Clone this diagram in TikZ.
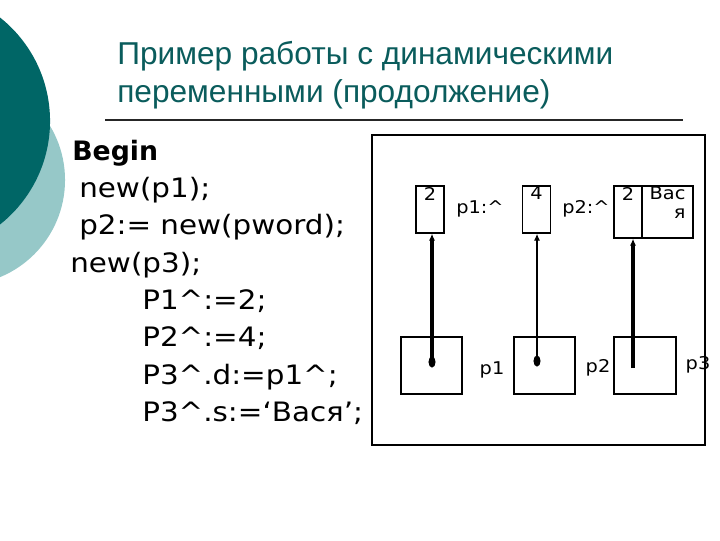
\documentclass[tikz,border=0pt]{standalone}
\usepackage{fontspec}
\setmainfont{DejaVu Sans}
\newfontfamily\titlefont{Liberation Sans}
\newfontfamily\codefont[FakeStretch=1.1]{DejaVu Sans}
\usepackage{tikz}
\usetikzlibrary{
  arrows.meta,
  positioning,
  shapes.geometric
}
\definecolor{slidedark}{RGB}{0,102,102}
\definecolor{slidelight}{RGB}{150,200,200}
\definecolor{titleteal}{RGB}{10,92,92}

\tikzset{
  codeline/.style={anchor=base west, inner sep=0pt, font=\codefont\fontsize{19}{22}\selectfont},
  titleline/.style={anchor=base west, inner sep=0pt, text=titleteal, font=\titlefont\fontsize{22.5}{26}\selectfont},
  cell/.style={draw, line width=1pt, inner sep=0pt},
  lbl/.style={inner sep=1pt, font=\codefont\fontsize{12.5}{13.5}\selectfont},
  ptr/.style={-{Latex[length=5pt,width=4.5pt]}, line width=2.4pt},
  dot/.style={ellipse, fill, inner sep=0pt, minimum width=5pt, minimum height=8pt}
}

\begin{document}
\begin{tikzpicture}[x=0.025cm, y=-0.025cm]
  \useasboundingbox (0,0) rectangle (720,540);

  % Decorative circles
  \begin{scope}
    \clip (0,0) rectangle (720,540);
    \fill[slidelight] (-40,180) circle[radius=2.625cm];
    \fill[slidedark] (-82,121) circle[radius=3.3cm];
  \end{scope}

  % Title
  \node[titleline] (title1) at (117,64) {Пример работы с динамическими};
  \node[titleline] (title2) at (117,102) {переменными (продолжение)};
  \draw[line width=1pt, black!85] (105,120) -- (683,120);

  % Program text
  \node[codeline, font=\fontsize{19}{22}\selectfont\bfseries] (c0) at (72,160) {Begin};
  \node[codeline] (c1) at (79,197) {new(p1);};
  \node[codeline] (c2) at (79,234) {p2:= new(pword);};
  \node[codeline] (c3) at (70,272) {new(p3);};
  \node[codeline] (c4) at (142,309) {P1\^{}:=2;};
  \node[codeline] (c5) at (142,346) {P2\^{}:=4;};
  \node[codeline] (c6) at (142,384) {P3\^{}.d:=p1\^{};};
  \node[codeline] (c7) at (142,421) {P3\^{}.s:=‘Вася’;};

  % Memory frame
  \draw[line width=1.3pt] (372,135) rectangle (705,445);

  % Dynamic variables
  \node[cell, minimum width=0.7cm, minimum height=1.175cm,
        label={[lbl, anchor=north]north:2}] (val1) at (430,209.5) {};
  \node[cell, minimum width=0.7cm, minimum height=1.175cm,
        label={[lbl, anchor=north]north:4}] (val2) at (536.5,209.5) {};
  \node[cell, minimum width=0.7cm, minimum height=1.3cm,
        label={[lbl, anchor=north]north:2}] (recd) at (628,212) {};
  \node[cell, minimum width=1.275cm, minimum height=1.3cm,
        label={[lbl, anchor=north, align=right]north:{Вас\\я}}] (recs) at (667.5,212) {};
  \node[lbl] (lv1) at (480,209) {p1:\^{}};
  \node[lbl] (lv2) at (586,209) {p2:\^{}};

  % Pointer variables
  \node[cell, minimum width=1.525cm, minimum height=1.425cm] (ptr1) at (431.5,365.5) {};
  \node[cell, minimum width=1.525cm, minimum height=1.425cm] (ptr2) at (544.5,365.5) {};
  \node[cell, minimum width=1.55cm, minimum height=1.425cm] (ptr3) at (645,365.5) {};
  \node[lbl] (lp1) at (492,370) {p1};
  \node[lbl] (lp2) at (598,368) {p2};
  \node[lbl] (lp3) at (698,365) {p3};

  % References
  \node[dot] (dot1) at (432,362) {};
  \node[dot] (dot2) at (537,361) {};
  \coordinate (end3) at (633,368);
  \draw[ptr] (dot1.center) -- (dot1 |- val1.south);
  \draw[ptr, line width=1.2pt] (dot2.center) -- (dot2 |- val2.south);
  \draw[ptr] (end3) -- (end3 |- recd.south);
\end{tikzpicture}
\end{document}
